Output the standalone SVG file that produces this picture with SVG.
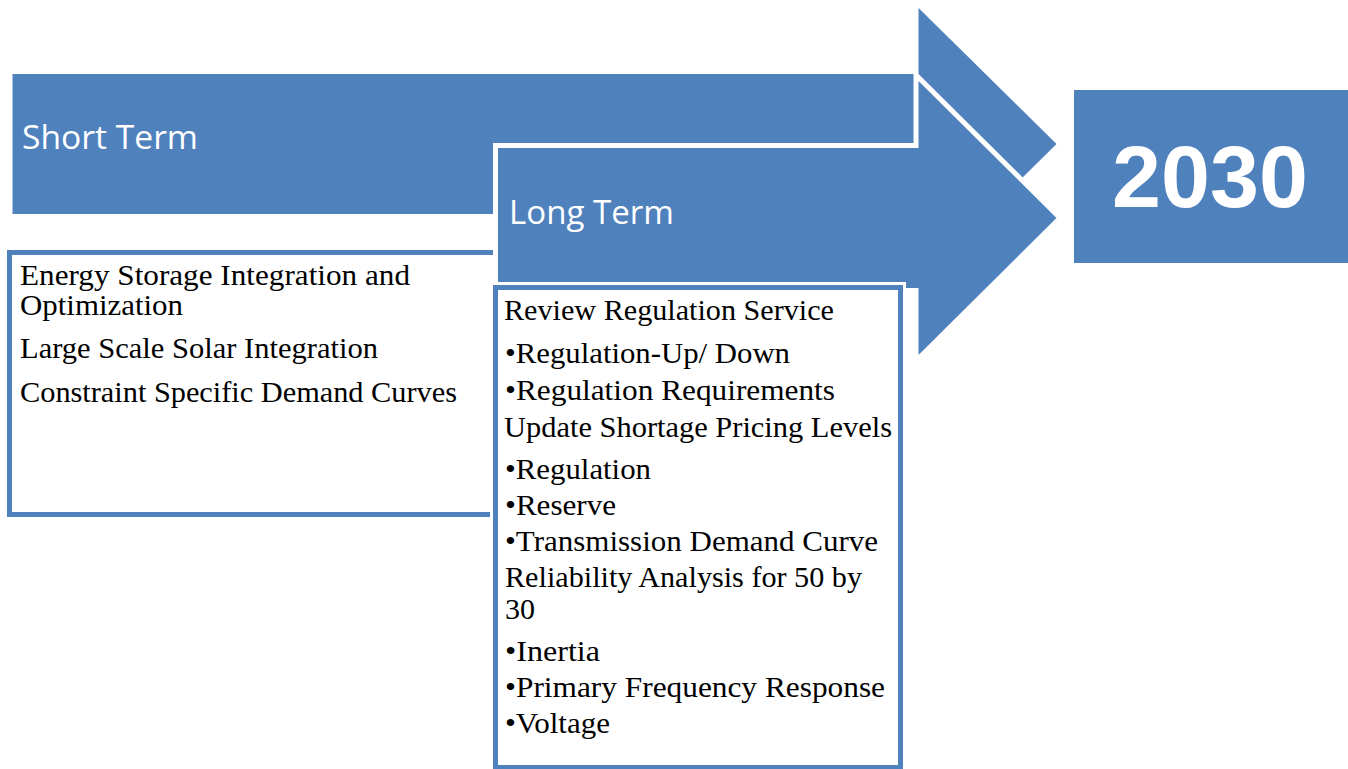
<svg xmlns="http://www.w3.org/2000/svg" width="1348" height="769" viewBox="0 0 1348 769">
  <style>
    .arrow { fill: #4F81BD; stroke: #FFFFFF; stroke-width: 5; stroke-linejoin: miter; }
    .halo { fill: #FFFFFF; stroke: #FFFFFF; stroke-width: 11; }
    .box { fill: #FFFFFF; stroke: #4F81BD; stroke-width: 5; }
    .block { fill: #4F81BD; }
    .head { font-family: "Open Sans", "Liberation Sans", sans-serif; font-size: 32px; fill: #FFFFFF; }
    .item { font-family: "Liberation Serif", "DejaVu Serif", serif; font-size: 30px; fill: #000000; }
    .item-long { font-size: 29px; }
    .year { font-family: "Liberation Sans", Arial, sans-serif; font-size: 88px; font-weight: bold; fill: #FFFFFF; }
  </style>

  <!-- Short term: arrow and its item list -->
  <g id="short-term">
    <polygon class="arrow" points="10,71.5 916,71.5 916,2 1060,144 916,286 916,216.5 10,216.5"/>
    <text class="head" x="22" y="149" textLength="176" lengthAdjust="spacingAndGlyphs">Short Term</text>
  </g>
  <g id="short-term-items">
    <rect class="box" x="9.5" y="252.5" width="486" height="262"/>
    <text class="item" x="20" y="285" textLength="390" lengthAdjust="spacingAndGlyphs">Energy Storage Integration and</text>
    <text class="item" x="20" y="315" textLength="163" lengthAdjust="spacingAndGlyphs">Optimization</text>
    <text class="item" x="20" y="358" textLength="358" lengthAdjust="spacingAndGlyphs">Large Scale Solar Integration</text>
    <text class="item" x="20" y="402" textLength="437" lengthAdjust="spacingAndGlyphs">Constraint Specific Demand Curves</text>
  </g>

  <!-- Long term: arrow drawn over the short term one -->
  <g id="long-term">
    <polygon class="arrow" points="495.5,145.5 916,145.5 916,75 1060,218 916,361 916,290.5 495.5,290.5"/>
    <text class="head" x="509" y="224" textLength="165" lengthAdjust="spacingAndGlyphs">Long Term</text>
  </g>
  <g id="long-term-items">
    <rect class="halo" x="495.5" y="287.5" width="405" height="480"/>
    <rect class="box" x="495.5" y="287.5" width="405" height="480"/>
    <text class="item item-long" x="504" y="320" textLength="330" lengthAdjust="spacingAndGlyphs">Review Regulation Service</text>
    <text class="item item-long" x="505" y="363" textLength="285" lengthAdjust="spacingAndGlyphs">•Regulation-Up/ Down</text>
    <text class="item item-long" x="505" y="400" textLength="330" lengthAdjust="spacingAndGlyphs">•Regulation Requirements</text>
    <text class="item item-long" x="504" y="437" textLength="388" lengthAdjust="spacingAndGlyphs">Update Shortage Pricing Levels</text>
    <text class="item item-long" x="505" y="479" textLength="146" lengthAdjust="spacingAndGlyphs">•Regulation</text>
    <text class="item item-long" x="505" y="515" textLength="111" lengthAdjust="spacingAndGlyphs">•Reserve</text>
    <text class="item item-long" x="505" y="551" textLength="373" lengthAdjust="spacingAndGlyphs">•Transmission Demand Curve</text>
    <text class="item item-long" x="505" y="587" textLength="357" lengthAdjust="spacingAndGlyphs">Reliability Analysis for 50 by</text>
    <text class="item item-long" x="505" y="619" textLength="30" lengthAdjust="spacingAndGlyphs">30</text>
    <text class="item item-long" x="505" y="661" textLength="95" lengthAdjust="spacingAndGlyphs">•Inertia</text>
    <text class="item item-long" x="505" y="697" textLength="380" lengthAdjust="spacingAndGlyphs">•Primary Frequency Response</text>
    <text class="item item-long" x="505" y="733" textLength="105" lengthAdjust="spacingAndGlyphs">•Voltage</text>
  </g>

  <!-- Target year -->
  <g id="target-2030">
    <rect class="block" x="1074" y="90" width="274" height="173"/>
    <text class="year" x="1210" y="207" text-anchor="middle">2030</text>
  </g>

  <g id="connectors"/>
</svg>
